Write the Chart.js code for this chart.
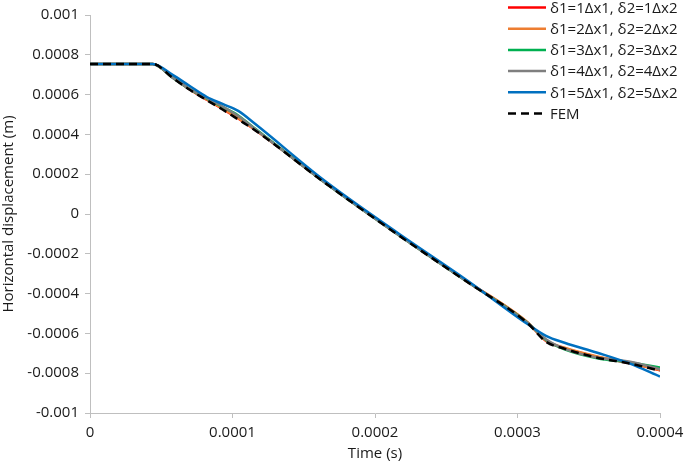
<!DOCTYPE html>
<html>
<head>
<meta charset="utf-8">
<script src="https://cdn.jsdelivr.net/npm/chart.js@4"></script>
<style>
  html, body { margin: 0; padding: 0; background: #fff; }
  #wrap { width: 685px; height: 465px; position: relative; }
</style>
</head>
<body>
<div id="wrap"><canvas id="chart"></canvas></div>
<script>
// Sample times (s)
const times = [0, 0.000044, 0.000058, 0.000070, 0.000082, 0.000093, 0.000104, 0.000116,
  0.000164, 0.000216, 0.000264, 0.000307, 0.000320, 0.000333, 0.000356, 0.000379, 0.000400];

// Horizontal displacement (m) for each case
const dispD1 = [0.000754, 0.000754, 0.000686, 0.000626, 0.000574, 0.000528, 0.000480, 0.000422,
  0.000163, -0.000102, -0.000336, -0.000545, -0.000638, -0.000674, -0.000718, -0.000750, -0.000785];
const dispD2 = [0.000754, 0.000754, 0.000688, 0.000628, 0.000576, 0.000530, 0.000482, 0.000423,
  0.000164, -0.000101, -0.000335, -0.000544, -0.000636, -0.000672, -0.000716, -0.000749, -0.000784];
const dispD3 = [0.000754, 0.000754, 0.000685, 0.000627, 0.000580, 0.000538, 0.000495, 0.000428,
  0.000162, -0.000103, -0.000337, -0.000546, -0.000633, -0.000680, -0.000725, -0.000746, -0.000772];
const dispD4 = [0.000754, 0.000754, 0.000685, 0.000628, 0.000582, 0.000540, 0.000492, 0.000426,
  0.000162, -0.000103, -0.000337, -0.000547, -0.000630, -0.000678, -0.000722, -0.000742, -0.000780];
const dispD5 = [0.000754, 0.000754, 0.000699, 0.000643, 0.000588, 0.000553, 0.000518, 0.000452,
  0.000171, -0.000095, -0.000330, -0.000553, -0.000612, -0.000647, -0.000697, -0.000752, -0.000817];
const dispFEM = [0.000754, 0.000754, 0.000684, 0.000624, 0.000572, 0.000525, 0.000475, 0.000420,
  0.000161, -0.000104, -0.000338, -0.000548, -0.000642, -0.000677, -0.000722, -0.000752, -0.000787];

const seriesLabels = [
  "δ1=1Δx1, δ2=1Δx2",
  "δ1=2Δx1, δ2=2Δx2",
  "δ1=3Δx1, δ2=3Δx2",
  "δ1=4Δx1, δ2=4Δx2",
  "δ1=5Δx1, δ2=5Δx2",
  "FEM",
];
const seriesValues = [dispD1, dispD2, dispD3, dispD4, dispD5, dispFEM];
const seriesColors = ["#ff0000", "#ed7d31", "#00b050", "#7f7f7f", "#0070c0", "#000000"];
const drawOrder = [5, 4, 3, 2, 1, 0];

const yTicks = [-0.001, -0.0008, -0.0006, -0.0004, -0.0002, 0, 0.0002, 0.0004, 0.0006, 0.0008, 0.001];
const xTicks = [0, 0.0001, 0.0002, 0.0003, 0.0004];

const textColor = "#1a1a1a";
const axisColor = "#bfbfbf";
const fontFamily = "'Open Sans', sans-serif";

function fmt(v) {
  return String(Number(v.toFixed(5)));
}

const datasets = seriesLabels.map((label, i) => ({
  label: label,
  data: times.map((t, k) => ({ x: t, y: seriesValues[i][k] })),
  borderColor: seriesColors[i],
  backgroundColor: seriesColors[i],
  borderWidth: 2.5,
  borderDash: label === "FEM" ? [8, 5] : [],
  pointRadius: 0,
  showLine: true,
  fill: false,
  cubicInterpolationMode: "monotone",
  order: drawOrder[i],
}));

// Legend drawn inside the top-right corner, over the plot
const cornerLegend = {
  id: "cornerLegend",
  afterDraw(chart) {
    const ctx = chart.ctx;
    ctx.save();
    ctx.font = "15px " + fontFamily;
    ctx.textBaseline = "middle";
    ctx.textAlign = "left";
    chart.data.datasets.forEach((ds, i) => {
      const y = 7.5 + i * 21.2;
      ctx.strokeStyle = ds.borderColor;
      ctx.lineWidth = 2.5;
      ctx.setLineDash(ds.borderDash || []);
      ctx.beginPath();
      ctx.moveTo(508, y);
      ctx.lineTo(546, y);
      ctx.stroke();
      ctx.setLineDash([]);
      ctx.fillStyle = textColor;
      ctx.fillText(ds.label, 550, y + 1);
    });
    ctx.restore();
  },
};

new Chart(document.getElementById("chart"), {
  type: "scatter",
  data: { datasets: datasets },
  options: {
    responsive: true,
    maintainAspectRatio: false,
    animation: false,
    layout: { padding: { top: 12, right: 25, left: 0, bottom: 0 } },
    plugins: {
      legend: { display: false },
      tooltip: { enabled: false },
    },
    scales: {
      x: {
        type: "linear",
        min: 0,
        max: 0.0004,
        afterBuildTicks: (scale) => { scale.ticks = xTicks.map((v) => ({ value: v })); },
        afterFit: (scale) => {
          scale.height = 52;
          scale.paddingRight = 0;
          scale.paddingLeft = 0;
        },
        ticks: {
          color: textColor,
          font: { family: fontFamily, size: 15 },
          padding: 6,
          maxRotation: 0,
          callback: (v) => fmt(v),
        },
        grid: { drawOnChartArea: false, drawTicks: true, tickLength: 5, color: axisColor },
        border: { display: true, color: axisColor, width: 1 },
        title: {
          display: true,
          text: "Time (s)",
          color: textColor,
          font: { family: fontFamily, size: 15 },
          padding: { top: 0, bottom: 2 },
        },
      },
      y: {
        type: "linear",
        min: -0.001,
        max: 0.001,
        afterBuildTicks: (scale) => { scale.ticks = yTicks.map((v) => ({ value: v })); },
        afterFit: (scale) => { scale.width = 90; },
        ticks: {
          color: textColor,
          font: { family: fontFamily, size: 15 },
          padding: 6,
          callback: (v) => fmt(v),
        },
        grid: { drawOnChartArea: false, drawTicks: true, tickLength: 5, color: axisColor },
        border: { display: true, color: axisColor, width: 1 },
        title: {
          display: true,
          text: "Horizontal displacement (m)",
          color: textColor,
          font: { family: fontFamily, size: 15 },
          padding: { top: 0, bottom: 0 },
        },
      },
    },
  },
  plugins: [cornerLegend],
});
</script>
</body>
</html>
